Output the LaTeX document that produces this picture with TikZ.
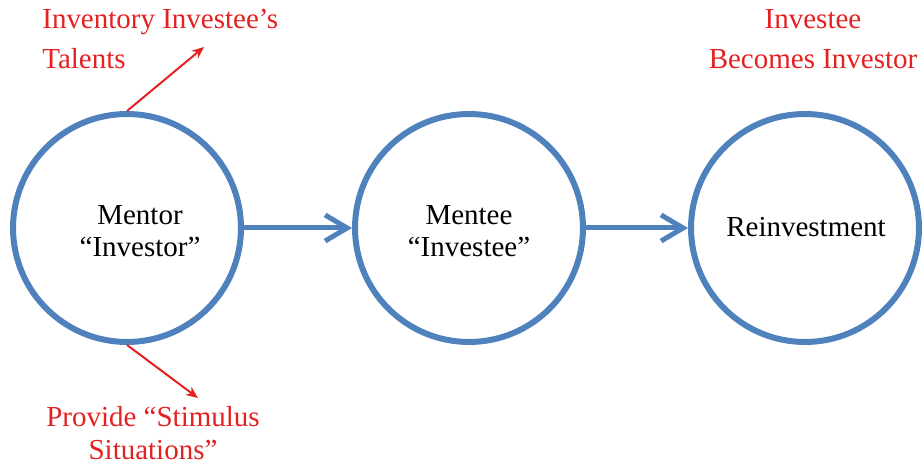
\documentclass[tikz,border=0pt]{standalone}
\usepackage{fontspec}
\setmainfont{Liberation Serif}
\usetikzlibrary{positioning,arrows.meta}
\definecolor{ringblue}{RGB}{79,129,189}
\definecolor{notered}{RGB}{228,32,32}

\begin{document}
\begin{tikzpicture}[x=0.02cm,y=-0.02cm,
	ring/.style={draw=ringblue,line width=0.12cm,circle,minimum size=4.56cm,inner sep=0pt},
	word/.style={inner sep=0pt,align=center,font=\fontsize{16.5}{18.5}\selectfont},
	note/.style={inner sep=0pt,text=notered,font=\fontsize{16.5}{22.8}\selectfont},
	flow/.style={draw=ringblue,line width=0.1cm,-{Straight Barb[length=0.44cm,width=0.52cm]}},
	point/.style={draw=notered,line width=0.04cm,-{Stealth[length=0.24cm,width=0.2cm]}}]
\useasboundingbox (0,0) rectangle (922,465);

\foreach \x/\n in {127/mentor,469/mentee,805/reinvest}
	\node[ring] (\n) at (\x,228) {};

\node[word] (mentorlbl) at (140,231) {Mentor\\``Investor''};
\node[word] (menteelbl) at (469,231) {Mentee\\``Investee''};
\node[word] (reinvestlbl) at (806,227) {Reinvestment};

\foreach \a/\b in {mentor/mentee,mentee/reinvest}
	\draw[flow](\a.east)--(\b.west);

\node[note,anchor=west,align=left] (talents) at (42,39) {Inventory Investee's\\Talents};
\node[note,align=center] (becomes) at (813,39) {Investee\\Becomes Investor};
\node[note,align=center,font=\fontsize{16.5}{19}\selectfont] (stimulus) at (153,433) {Provide ``Stimulus\\Situations''};

\coordinate (talentstip) at (204,47);
\coordinate (stimulustip) at (198,398);
\draw[point](mentor.north)--(talentstip);
\draw[point](mentor.south)--(stimulustip);

\end{tikzpicture}
\end{document}
